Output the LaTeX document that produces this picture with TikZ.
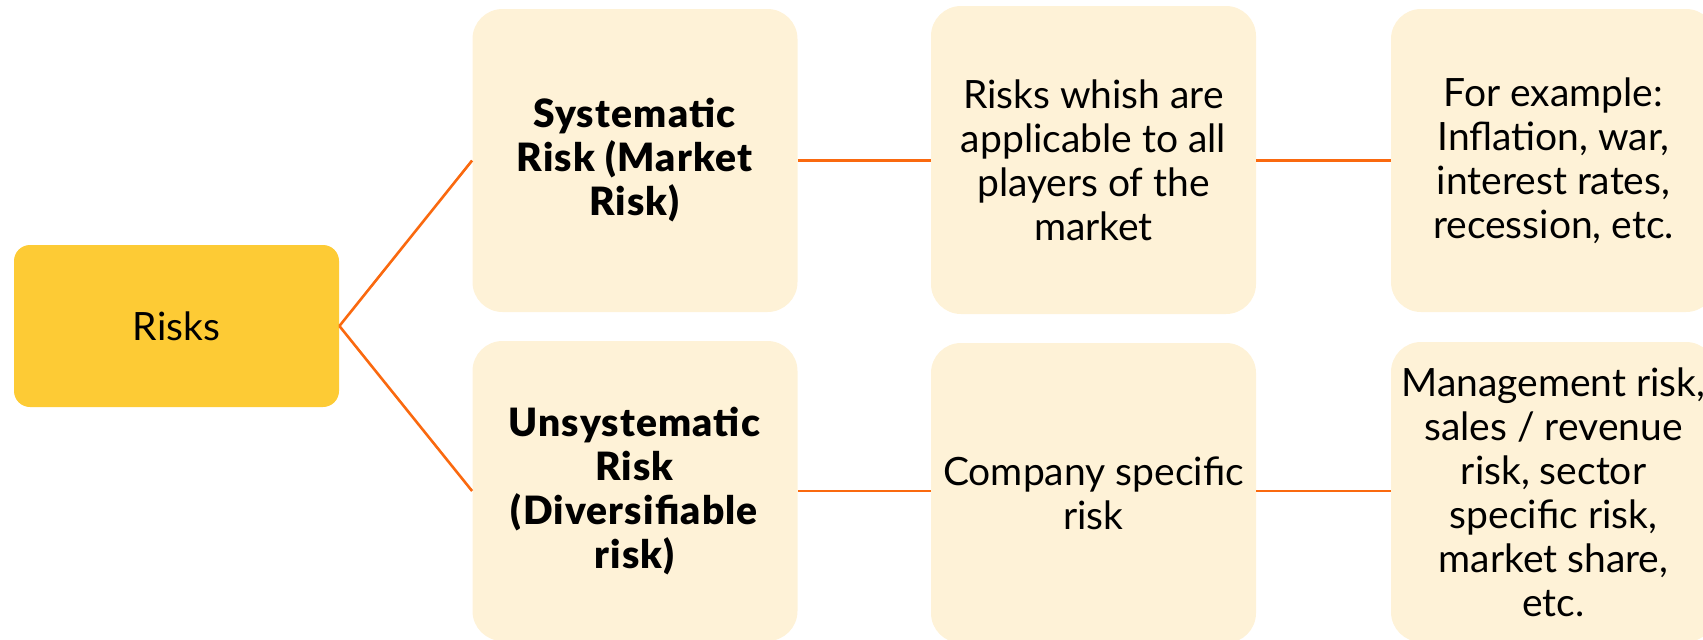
\documentclass[tikz,border=0pt]{standalone}
\usepackage{fontspec}
\setmainfont{Lato}[BoldFont={Lato Black},BoldFeatures={LetterSpace=3}]
\definecolor{rootfill}{RGB}{253,203,53}
\definecolor{cream}{RGB}{254,242,215}
\definecolor{linkorange}{RGB}{250,105,15}
\begin{document}
\begin{tikzpicture}[x=0.5pt,y=-0.5pt,font=\fontsize{19.5}{22}\selectfont,
  box/.style={fill=cream,rounded corners=15pt,minimum width=162.5pt,minimum height=151.5pt,inner sep=0pt,align=center},
  rootbox/.style={fill=rootfill,rounded corners=8pt,minimum width=162.5pt,minimum height=81pt,inner sep=0pt,align=center},
  link/.style={draw=linkorange,line width=1.3pt}]
\useasboundingbox (0,0) rectangle (1703,639);

\begin{scope}
\node[rootbox] (risks) at (176.5,326) {Risks};

\node[box] (sys) at (635,160.5) {\textbf{Systematic}\\\textbf{Risk (Market}\\\textbf{Risk)}};
\node[box,minimum height=150pt] (unsys) at (635,491) {\textbf{Unsystematic}\\\textbf{Risk}\\\textbf{(Diversifiable}\\\textbf{risk)}};

\node[box,minimum height=154pt] (sysdesc) at (1093.5,160) {Risks whish are\\applicable to all\\players of the\\market};
\node[box,minimum height=150pt] (unsysdesc) at (1093.5,493) {Company specific\\risk};

\node[box] (sysex) at (1553.5,160.5) {For example:\\Inflation, war,\\interest rates,\\recession, etc.};
\node[box,minimum height=150pt] (unsysex) at (1553.5,492) {Management risk,\\sales / revenue\\risk, sector\\specific risk,\\market share,\\etc.};
\end{scope}

\draw[link] (risks.east) -- (sys.west);
\draw[link] (risks.east) -- (unsys.west);
\draw[link] (sys.east) -- (sysdesc.west |- sys.east);
\draw[link] (unsys.east) -- (unsysdesc.west |- unsys.east);
\draw[link] (sysdesc.east |- sys.east) -- (sysex.west |- sys.east);
\draw[link] (unsysdesc.east |- unsys.east) -- (unsysex.west |- unsys.east);
%\draw[link] (sysdesc.south) -- (unsysdesc.north);

\end{tikzpicture}
\end{document}
